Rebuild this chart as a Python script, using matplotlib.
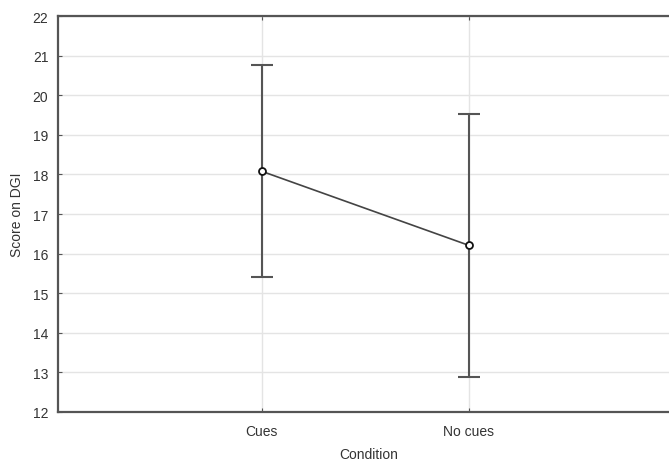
import matplotlib
matplotlib.use('Agg')
import matplotlib.pyplot as plt
import numpy as np

plt.rcParams['font.family'] = ['Liberation Sans', 'DejaVu Sans']

# data
conditions = ['Cues', 'No cues']
means = [18.08, 16.21]
err = [2.68, 3.33]  # half-width of the interval

x_pos = np.arange(1, len(conditions) + 1)

fig = plt.figure(figsize=(6.69, 4.64), dpi=100)
ax = fig.add_axes([0.0867, 0.11, 0.928, 0.853])

ax.set_xlim(0.015, 3.015)
ax.set_ylim(12, 22)

# grid
ax.set_yticks(np.arange(12, 23, 1))
ax.set_xticks(x_pos)
ax.set_xticklabels(conditions)
ax.grid(True, color='#e4e4e4', linewidth=1.0)
ax.set_axisbelow(True)

ax.errorbar(x_pos, means, yerr=err, fmt='none', ecolor='#555555',
            elinewidth=1.5, capsize=8, capthick=1.5, zorder=2)
ax.plot(x_pos, means, color='#444444', linewidth=1.2, zorder=3)
ax.plot(x_pos, means, 'o', markersize=5, markerfacecolor='white',
        markeredgecolor='#111111', markeredgewidth=1.3, zorder=4)

for side in ['left', 'bottom', 'top']:
    ax.spines[side].set_color('#555555')
    ax.spines[side].set_linewidth(1.6)
ax.spines['right'].set_visible(False)

ax.tick_params(axis='both', direction='in', length=3, color='#555555',
               labelsize=10, labelcolor='#333333', top=True)
ax.tick_params(axis='y', pad=7)
ax.tick_params(axis='x', pad=9)

ax.set_xlabel('Condition', fontsize=10, color='#333333', labelpad=6)
ax.set_ylabel('Score on DGI', fontsize=10, color='#333333', labelpad=6)

fig.savefig('out.png', dpi=100)
